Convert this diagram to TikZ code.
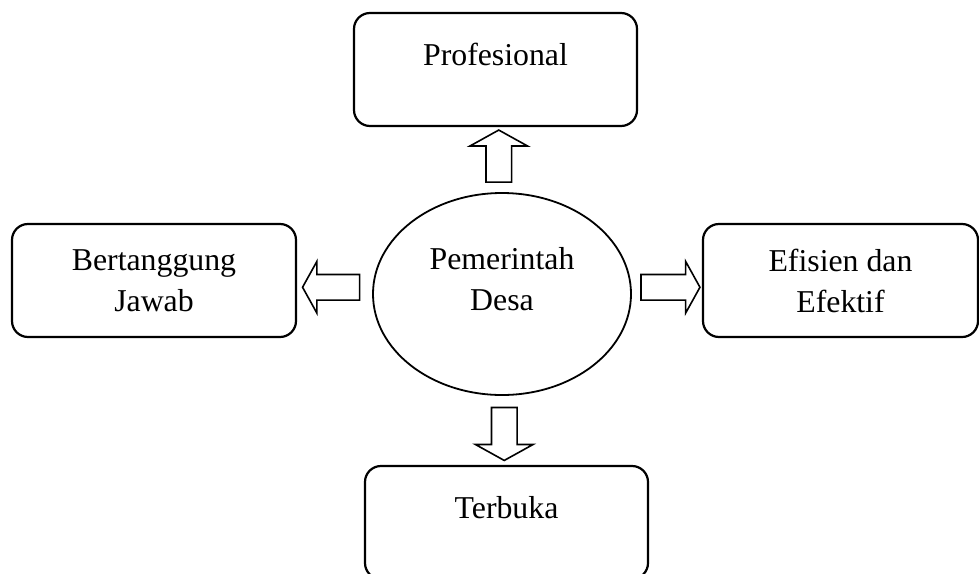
\documentclass[tikz,border=0pt]{standalone}
\usepackage{fontspec}
\setmainfont{Liberation Serif}
\usetikzlibrary{positioning,shapes.geometric,shapes.arrows,calc}

\begin{document}
\begin{tikzpicture}[
  x=1pt, y=-1pt,
  font=\fontsize{31.8}{41}\selectfont,
  kotak/.style={draw=black, rounded corners=16pt, line width=2.2pt, minimum width=283pt, minimum height=113pt, inner sep=0pt, align=center},
  satubaris/.style={text height=22pt, text depth=31pt},
  pusat/.style={draw=black, ellipse, line width=1.8pt, minimum width=258pt, minimum height=202pt, inner sep=0pt, align=center},
  panah/.style={draw=black, single arrow, line width=1.6pt, inner sep=0pt, single arrow tip angle=122, text width=24pt, text height=12pt, text depth=12pt},
  tegak/.style={panah, single arrow head extend=16pt},
  datar/.style={panah, single arrow head extend=13pt},
]
\useasboundingbox (0,0) rectangle (979,573);

% central node
\node[pusat, text height=63pt, text depth=31pt] (desa) at (502,294) {Pemerintah\\Desa};

% the four surrounding boxes
\node[kotak, satubaris] (prof) at (495.5,69.5) {Profesional};
\node[kotak, satubaris] (buka) at (506.5,522.5) {Terbuka};
\node[kotak, minimum width=284pt] (tanggung) at (154,280.5) {Bertanggung\\Jawab};
\node[kotak, minimum width=275pt] (efisien) at (840.5,280.5) {Efisien dan\\Efektif};

% block arrows from the centre outwards
\node[tegak, minimum height=52pt, shape border rotate=90] (keprof) at ($(desa.north)!0.5!(prof.south)$) {};
\node[tegak, minimum height=53pt, shape border rotate=270] (kebuka) at ($(desa.south)!0.5!(buka.north)$) {};
\node[datar, minimum height=57pt, shape border rotate=180] (ketanggung) at ($(desa.west)!0.5!(tanggung.east)$) {};
\node[datar, minimum height=59pt, shape border rotate=0] (keefisien) at ($(desa.east)!0.5!(efisien.west)$) {};

\end{tikzpicture}
\end{document}
